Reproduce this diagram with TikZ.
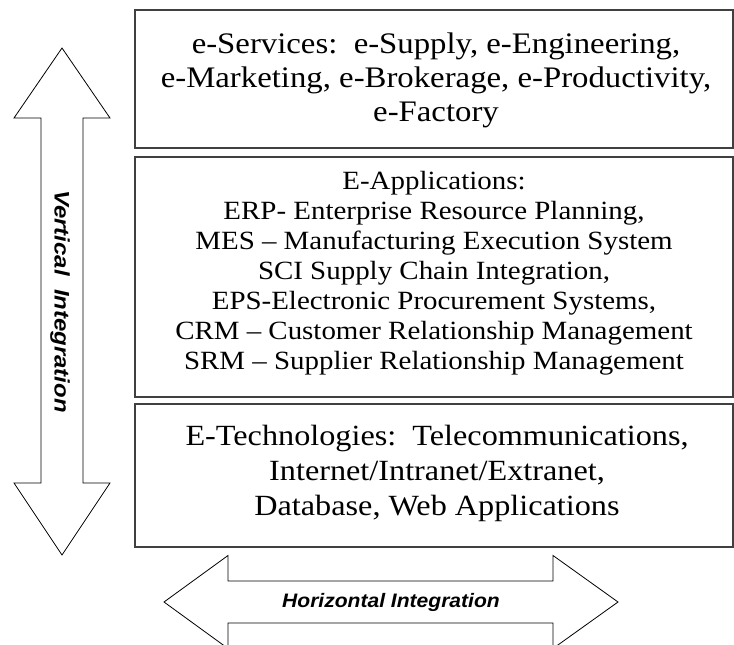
\documentclass[tikz,border=0pt]{standalone}
\usepackage{fontspec}
\newfontfamily\serifs[FakeStretch=1.1,Ligatures=TeX]{Liberation Serif}
\newfontfamily\sanshz[FakeStretch=1.08]{Liberation Sans}
\newfontfamily\sansvt[FakeStretch=1.14]{Liberation Sans}
\tikzset{
  box/.style={draw=black!75, line width=1.1pt, minimum width=598pt, inner sep=0pt},
  bigarrow/.style={draw=black, line width=0.8pt, line join=miter, fill=white},
  txt/.style={align=center, inner sep=0pt, font=\serifs},
}
\begin{document}
\begin{tikzpicture}[x=1pt,y=-1pt]
\useasboundingbox (0,0) rectangle (734,645);
\clip (0,0) rectangle (734,645);
% boxes
\node[box, minimum height=138pt] (b1) at (434,79) {};
\node[box, minimum height=240pt] (b2) at (434,277) {};
\node[box, minimum height=143pt] (b3) at (434,475.5) {};
% texts
\node[txt, font=\serifs\fontsize{29.8}{34}\selectfont] (t1) at (436,80)
  {e-Services:\ \ e-Supply, e-Engineering,\\e-Marketing, e-Brokerage, e-Productivity,\\e-Factory};
\node[txt, font=\serifs\fontsize{26.3}{30}\selectfont] (t2) at (434,273)
  {E-Applications:\\ERP- Enterprise Resource Planning,\\MES – Manufacturing Execution System\\SCI Supply Chain Integration,\\EPS-Electronic Procurement Systems,\\CRM – Customer Relationship Management\\SRM – Supplier Relationship Management};
\node[txt, font=\serifs\fontsize{29.3}{35}\selectfont] (t3) at (437,473)
  {E-Technologies:\ \ Telecommunications,\\Internet/Intranet/Extranet,\\Database, Web Applications};
% vertical double arrow
\draw[bigarrow] (62,48) -- (110,118) -- (83,118) -- (83,483) -- (110,483) -- (62,555)
  -- (14,483) -- (41,483) -- (41,118) -- (14,118) -- cycle;
\node[rotate=-90, inner sep=0pt, font=\sansvt\bfseries\itshape\fontsize{21}{23}\selectfont] (vt) at (60,301.5) {Vertical\ \ Integration};
% horizontal double arrow
\draw[bigarrow] (164,602) -- (228,555.5) -- (228,581) -- (553,581) -- (553,555.5) -- (618,602)
  -- (553,648.5) -- (553,623) -- (228,623) -- (228,648.5) -- cycle;
\node[inner sep=0pt, font=\sanshz\bfseries\itshape\fontsize{19.5}{22}\selectfont] (ht) at (391,602) {Horizontal Integration};
\end{tikzpicture}
\end{document}
